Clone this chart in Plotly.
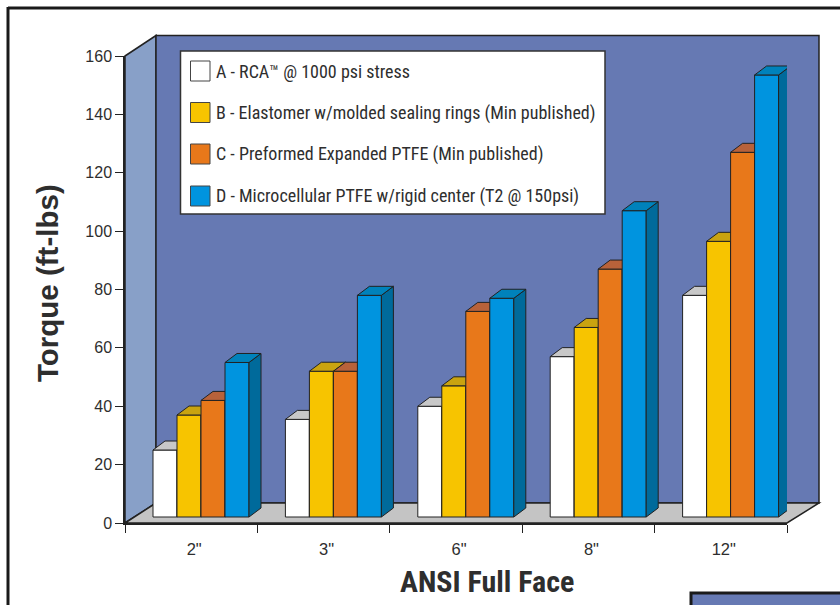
import plotly.graph_objects as go

CATEGORIES = ['2"', '3"', '6"', '8"', '12"']
SERIES_NAMES = [
    "A - RCA\u2122 @ 1000 psi stress",
    "B - Elastomer w/molded sealing rings (Min published)",
    "C - Preformed Expanded PTFE (Min published)",
    "D - Microcellular PTFE w/rigid center (T2 @ 150psi)",
]
VALUES_A = [25, 35.5, 40, 57, 78]
VALUES_B = [37, 52, 47, 67, 96.5]
VALUES_C = [42, 52, 72.5, 87, 127]
VALUES_D = [55, 78, 77, 107, 153.5]
SERIES = [VALUES_A, VALUES_B, VALUES_C, VALUES_D]
FRONT = ["#ffffff", "#f7c400", "#e8781a", "#0094df"]
TOP = ["#c8c8c8", "#c9a310", "#b8623a", "#0082bb"]
SIDE = ["#b5b5b5", "#a88a00", "#a85a20", "#006a9b"]
WALL = "#6679b3"
LEFT_WALL = "#88a0c8"
FLOOR = "#c4c4c4"
INK = "#222222"
TEXT = "#2e2e2e"
NARROW = "Liberation Sans Narrow, Roboto Condensed, Liberation Sans, sans-serif"
SANS = "Liberation Sans, Arial, sans-serif"

W, H = 840, 605
L, R, T, B = 125, 787, 56, 523
XU = (R - L) / 5          # pixels per category
YU = (B - T) / 160        # pixels per torque unit


def px(x):
    return (x - L) / (R - L)


def py(y):
    return (B - y) / (B - T)


BAR_W = 24 / XU
GROUP_LEFT = (153 - L) / XU - 0.5
BASE = 6 / YU
DX = 12 / XU
DY = 9 / YU
LABEL_SHIFT = 3 / XU

fig = go.Figure()
for s, vals in enumerate(SERIES):
    suffix = "" if s == 0 else str(s + 1)
    xa, ya = "x" + suffix, "y" + suffix
    lefts = [i + GROUP_LEFT + s * BAR_W for i in range(len(vals))]
    topx, topy, sidex, sidey = [], [], [], []
    for x0, v in zip(lefts, vals):
        x1 = x0 + BAR_W
        topx += [x0, x1, x1 + DX, x0 + DX, x0, None]
        topy += [v, v, v + DY, v + DY, v, None]
        sidex += [x1, x1 + DX, x1 + DX, x1, x1, None]
        sidey += [BASE, BASE + DY, v + DY, v, BASE, None]
    fig.add_trace(go.Scatter(x=sidex, y=sidey, mode="lines", fill="toself", fillcolor=SIDE[s],
                             line=dict(color=INK, width=1), hoverinfo="skip", showlegend=False,
                             xaxis=xa, yaxis=ya))
    fig.add_trace(go.Scatter(x=topx, y=topy, mode="lines", fill="toself", fillcolor=TOP[s],
                             line=dict(color=INK, width=1), hoverinfo="skip", showlegend=False,
                             xaxis=xa, yaxis=ya))
    fig.add_trace(go.Bar(x=[x + BAR_W / 2 for x in lefts], y=[v - BASE for v in vals], base=BASE,
                         width=BAR_W, name=SERIES_NAMES[s], showlegend=False,
                         marker=dict(color=FRONT[s], line=dict(color=INK, width=1)),
                         xaxis=xa, yaxis=ya))

shapes = []
border = dict(color=INK, width=1.5)
# left wall, back wall, floor
shapes.append(dict(type="path", xref="paper", yref="paper", layer="below", fillcolor=LEFT_WALL, line=border,
                   path=f"M {px(125)} {py(56)} L {px(156)} {py(35.5)} L {px(156)} {py(503)} L {px(125)} {py(523)} Z"))
shapes.append(dict(type="rect", xref="paper", yref="paper", layer="below", fillcolor=WALL, line=border,
                   x0=px(156), x1=px(819), y0=py(503), y1=py(35.5)))
shapes.append(dict(type="path", xref="paper", yref="paper", layer="below", fillcolor=FLOOR, line=border,
                   path=f"M {px(125)} {py(523)} L {px(156)} {py(503)} L {px(819)} {py(503)} L {px(787)} {py(523)} Z"))
# page frame
shapes.append(dict(type="line", xref="paper", yref="paper", x0=px(8), x1=px(840), y0=py(8), y1=py(8),
                   line=dict(color="#1a1a1a", width=3)))
shapes.append(dict(type="line", xref="paper", yref="paper", x0=px(8), x1=px(8), y0=py(7), y1=py(605),
                   line=dict(color="#1a1a1a", width=3)))
shapes.append(dict(type="rect", xref="paper", yref="paper", fillcolor=WALL, line=dict(color="#1a1a1a", width=3),
                   x0=px(691), x1=px(845), y0=py(593), y1=py(615)))
# legend box
shapes.append(dict(type="rect", xref="paper", yref="paper", fillcolor="white", line=dict(color="#333333", width=1.5),
                   x0=px(180.5), x1=px(605), y0=py(214), y1=py(51)))
annotations = []
LEG_Y = [71, 112.5, 154, 196]
for s, name in enumerate(SERIES_NAMES):
    shapes.append(dict(type="rect", xref="paper", yref="paper", fillcolor=FRONT[s],
                       line=dict(color="#444444", width=1),
                       x0=px(190.5), x1=px(210), y0=py(LEG_Y[s] + 10), y1=py(LEG_Y[s] - 10)))
    annotations.append(dict(xref="paper", yref="paper", x=px(214), y=py(LEG_Y[s]), text=name, showarrow=False,
                            xanchor="left", yanchor="middle", font=dict(family=NARROW, size=18, color=TEXT)))
annotations.append(dict(xref="paper", yref="paper", x=px(47), y=py(283), text="<b>Torque (ft-lbs)</b>", textangle=-90,
                        showarrow=False, xanchor="center", yanchor="middle", font=dict(family=SANS, size=29.5, color=TEXT)))
annotations.append(dict(xref="paper", yref="paper", x=px(487), y=py(581), text="<b>ANSI Full Face</b>",
                        showarrow=False, xanchor="center", yanchor="middle", font=dict(family=NARROW, size=30, color=TEXT)))

hidden = dict(range=[-0.5, 4.5], visible=False, fixedrange=True)
hiddeny = dict(range=[0, 160], visible=False, fixedrange=True)
layout = dict(
    width=W, height=H, margin=dict(l=L, r=W - R, t=T, b=H - B),
    paper_bgcolor="white", plot_bgcolor="rgba(0,0,0,0)", showlegend=False, barmode="overlay",
    shapes=shapes, annotations=annotations,
    xaxis=dict(range=[-0.5, 4.5], tickmode="array", tickvals=[i + LABEL_SHIFT for i in range(5)], ticktext=CATEGORIES,
               showgrid=False, zeroline=False, showline=True, linecolor=INK, linewidth=1.5, ticks="",
               tickfont=dict(family=SANS, size=16.5, color=TEXT), ticklabelstandoff=10,
               minor=dict(tickmode="array", tickvals=[i - 0.5 for i in range(6)], ticks="outside", ticklen=8,
                          tickcolor=INK, tickwidth=1, showgrid=False)),
    yaxis=dict(range=[0, 160], tickmode="array", tickvals=list(range(0, 161, 20)), showgrid=False, zeroline=False,
               showline=True, linecolor=INK, linewidth=1.5, ticks="outside", ticklen=8, tickcolor=INK, tickwidth=1,
               tickfont=dict(family=SANS, size=16, color=TEXT)),
)
for n in (2, 3, 4):
    layout[f"xaxis{n}"] = dict(hidden, overlaying="x")
    layout[f"yaxis{n}"] = dict(hiddeny, overlaying="y")
fig.update_layout(**layout)
fig.write_html("out.html", config=dict(displayModeBar=False), post_script="document.body.style.margin='0';")
